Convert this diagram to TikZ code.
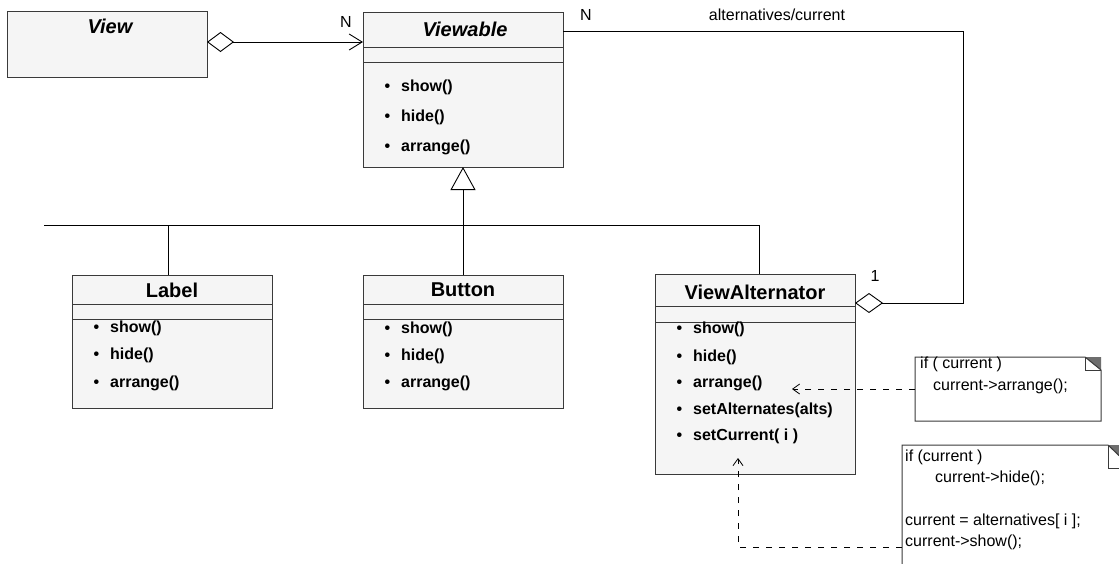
\documentclass[tikz,border=0pt]{standalone}
\usepackage{fontspec}
\setmainfont{Liberation Sans}
\usetikzlibrary{arrows.meta}
\definecolor{boxfill}{HTML}{F5F5F5}
\definecolor{boxline}{HTML}{3A3A3A}
\definecolor{foldgray}{HTML}{6E6E6E}
\newcommand\mitem[1]{\llap{\textbullet\hspace{11pt}}#1}
\begin{document}
\begin{tikzpicture}[x=1pt,y=-1pt,
  classbox/.style={draw=boxline, fill=boxfill, line width=1pt, minimum width=200pt,
    anchor=north west, inner sep=0pt, outer sep=0pt},
  notebox/.style={minimum width=#1, anchor=north west, inner sep=0pt, outer sep=0pt},
  ctitle/.style={font=\fontsize{20}{24}\selectfont\bfseries, inner sep=0pt},
  atitle/.style={font=\fontsize{20}{24}\selectfont\bfseries\itshape, inner sep=0pt},
  meth/.style={font=\fontsize{16}{19}\selectfont\bfseries, anchor=west, inner sep=0pt},
  notetext/.style={font=\fontsize{16}{19}\selectfont, anchor=west, inner sep=0pt},
  mult/.style={font=\fontsize{16}{19}\selectfont, inner sep=0pt},
  link/.style={draw=black, line width=0.9pt},
  sep/.style={draw=boxline, line width=1pt},
  noteline/.style={draw=boxline, line width=1pt},
  dep/.style={draw=black, line width=0.8pt, dash pattern=on 6pt off 7pt,
    -{Straight Barb[length=7pt,width=10pt]}},
]
\fill[white] (0,0) rectangle (1119,563);
\useasboundingbox (0,0) rectangle (1119,563);

% ---- classes ----
\node[classbox, minimum height=66pt] (view) at (7,11) {};
\node[atitle] (viewT) at (110,26) {View};

\node[classbox, minimum height=155pt] (viewable) at (363,12) {};
\draw[sep] ([yshift=-35pt]viewable.north west) -- ([yshift=-35pt]viewable.north east);
\draw[sep] ([yshift=-50pt]viewable.north west) -- ([yshift=-50pt]viewable.north east);
\node[atitle] (viewableT) at (465,29) {Viewable};
\node[meth] (vbShow) at (401,87) {\mitem{show()}};
\node[meth] (vbHide) at (401,117) {\mitem{hide()}};
\node[meth] (vbArr) at (401,147) {\mitem{arrange()}};

\node[classbox, minimum height=133pt] (label) at (72,275) {};
\draw[sep] ([yshift=-29pt]label.north west) -- ([yshift=-29pt]label.north east);
\draw[sep] ([yshift=-44pt]label.north west) -- ([yshift=-44pt]label.north east);
\node[ctitle] (labelT) at (172,290) {Label};
\node[meth] (lbShow) at (110,328) {\mitem{show()}};
\node[meth] (lbHide) at (110,355) {\mitem{hide()}};
\node[meth] (lbArr) at (110,383) {\mitem{arrange()}};

\node[classbox, minimum height=133pt] (button) at (363,275) {};
\draw[sep] ([yshift=-29pt]button.north west) -- ([yshift=-29pt]button.north east);
\draw[sep] ([yshift=-44pt]button.north west) -- ([yshift=-44pt]button.north east);
\node[ctitle] (buttonT) at (463,290) {Button};
\node[meth] (btShow) at (401,329) {\mitem{show()}};
\node[meth] (btHide) at (401,356) {\mitem{hide()}};
\node[meth] (btArr) at (401,383) {\mitem{arrange()}};

\node[classbox, minimum height=200pt] (va) at (655,274) {};
\draw[sep] ([yshift=-32pt]va.north west) -- ([yshift=-32pt]va.north east);
\draw[sep] ([yshift=-48pt]va.north west) -- ([yshift=-48pt]va.north east);
\node[ctitle] (vaT) at (755,292) {ViewAlternator};
\node[meth] (vaShow) at (693,329) {\mitem{show()}};
\node[meth] (vaHide) at (693,357) {\mitem{hide()}};
\node[meth] (vaArr) at (693,383) {\mitem{arrange()}};
\node[meth] (vaSetA) at (693,410) {\mitem{setAlternates(alts)}};
\node[meth] (vaSetC) at (693,436) {\mitem{setCurrent( i )}};

% ---- aggregation View -> Viewable ----
\draw[link, {Diamond[open,length=27pt,width=20pt]}-{Straight Barb[length=13pt,width=16pt]}]
  ([yshift=-31pt]view.north east) -- ([yshift=-30pt]viewable.north west);
\node[mult] (multN1) at (346,22) {N};

% ---- aggregation ViewAlternator -> Viewable ----
\coordinate (corner) at (963,31);
\draw[link, -{Diamond[open,length=28pt,width=20pt]}]
  ([yshift=-19pt]viewable.north east) -- (corner) |- ([yshift=-29pt]va.north east);
\node[mult] (multN2) at (586,15) {N};
\node[mult] (role) at (777,15) {alternatives/current};
\node[mult] (mult1) at (875,276) {1};

% ---- generalization tree ----
\coordinate (busL) at (44,225);
\coordinate (busR) at (759,225);
\coordinate (labTop) at ([xshift=-4pt]label.north);
\coordinate (vaTop) at ([xshift=4pt]va.north);
\draw[link] (busL) -- (busR);
\draw[link, -{Triangle[open,length=23pt,width=25pt]}] (button.north) -- (viewable.south);
\draw[link] (labTop) -- (labTop |- busL);
\draw[link] (vaTop) -- (vaTop |- busR);

% ---- note on arrange() ----
\node[notebox=186pt, minimum height=64pt] (note1) at (915,357) {};
\fill[white] (note1.north west) -- ([xshift=-16pt]note1.north east)
  -- ([yshift=-13pt]note1.north east) -- (note1.south east) -- (note1.south west) -- cycle;
\fill[foldgray] ([xshift=-16pt]note1.north east) -- (note1.north east)
  -- ([yshift=-13pt]note1.north east) -- cycle;
\draw[noteline] (note1.north west) -- ([xshift=-16pt]note1.north east)
  -- ([yshift=-13pt]note1.north east) -- (note1.south east) -- (note1.south west) -- cycle;
\draw[noteline] ([xshift=-16pt]note1.north east) |- ([yshift=-13pt]note1.north east);
\node[notetext] (n1a) at (920,364) {if ( current )};
\node[notetext] (n1b) at (933,386) {current->arrange();};

% ---- note on setCurrent() ----
\begin{scope}
\clip (0,0) rectangle (1119,563);
\node[notebox=230pt, minimum height=140pt] (note2) at (902,445) {};
\fill[white] (note2.north west) -- ([xshift=-24pt]note2.north east)
  -- ([yshift=-23pt]note2.north east) -- (note2.south east) -- (note2.south west) -- cycle;
\fill[foldgray] ([xshift=-24pt]note2.north east) -- (note2.north east)
  -- ([yshift=-23pt]note2.north east) -- cycle;
\draw[noteline] (note2.north west) -- ([xshift=-24pt]note2.north east)
  -- ([yshift=-23pt]note2.north east) -- (note2.south east) -- (note2.south west) -- cycle;
\draw[noteline] ([xshift=-24pt]note2.north east) |- ([yshift=-23pt]note2.north east);
\end{scope}
\node[notetext] (n2a) at (905,457) {if (current )};
\node[notetext] (n2b) at (935,478) {current->hide();};
\node[notetext] (n2c) at (905,521) {current = alternatives[ i ];};
\node[notetext] (n2d) at (905,542) {current->show();};

% ---- note anchors ----
\coordinate (arr1) at (792,389);
\coordinate (arr2) at (738,458);
\coordinate (n2start) at ([yshift=-102pt]note2.north west);
\draw[dep] (note1.west) -- (arr1);
\draw[dep] (n2start) -| (arr2);
\end{tikzpicture}
\end{document}
